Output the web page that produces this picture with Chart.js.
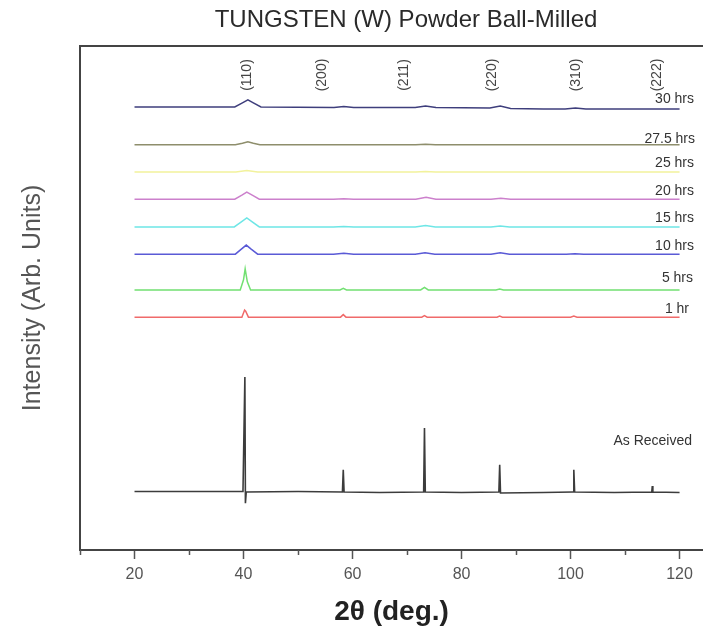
<!DOCTYPE html>
<html><head><meta charset="utf-8">
<script src="https://cdn.jsdelivr.net/npm/chart.js@4"></script>
<style>html,body{margin:0;padding:0;background:#fff}</style>
</head><body>
<canvas id="c" width="703" height="633" style="display:block;width:703px;height:633px"></canvas>
<script>
// ---- data ----
const chartTitle    = 'TUNGSTEN (W) Powder Ball-Milled';
const seriesNames   = ['As Received','1 hr','5 hrs','10 hrs','15 hrs','20 hrs','25 hrs','27.5 hrs','30 hrs'];
const seriesOffsets = [11.5, 46.2, 51.6, 58.7, 64.1, 69.6, 75.0, 80.4, 87.9];

const asReceivedX = [20, 30, 39.9, 40.25, 40.35, 40.5, 50, 58.15, 58.3, 58.45, 65, 73.05, 73.2, 73.35, 80, 86.85, 87.0, 87.15, 95, 100.45, 100.6, 100.75, 108, 114.9, 115.0, 115.1, 120];
const asReceivedY = [0.1, 0.1, 0.1, 22.8, -2.2, 0, 0.1, 0, 4.4, 0, -0.1, 0, 12.7, 0, -0.1, 0, 5.4, -0.2, -0.1, 0, 4.4, 0, -0.1, 0, 1.2, 0, -0.1];

const hr1X = [20, 39.7, 40.2, 40.4, 40.9, 57.8, 58.3, 58.8, 72.7, 73.2, 73.7, 86.5, 87.0, 87.5, 100.0, 100.6, 101.2, 120];
const hr1Y = [0, 0, 1.4, 1.2, 0, 0, 0.5, 0, 0, 0.3, 0, 0, 0.2, 0, 0, 0.2, 0, 0];

const hr5X = [20, 39.4, 40.0, 40.3, 40.7, 41.3, 57.7, 58.3, 58.9, 72.5, 73.2, 73.9, 86.3, 87.0, 87.7, 120];
const hr5Y = [0, 0, 2.0, 4.2, 1.6, 0, 0, 0.3, 0, 0, 0.5, 0, 0, 0.2, 0, 0];

const hr10X = [20, 38.5, 39.6, 40.5, 41.4, 42.6, 56.5, 58.4, 60.2, 71.5, 73.3, 75.1, 85.4, 87.1, 88.8, 99.2, 100.8, 102.4, 120];
const hr10Y = [0, 0, 1.0, 1.8, 1.0, 0, 0, 0.2, 0, 0, 0.3, 0, 0, 0.3, 0, 0, 0.1, 0, 0];

const hr15X = [20, 38.3, 39.6, 40.6, 41.6, 42.9, 56.5, 58.4, 60.2, 71.5, 73.4, 75.2, 85.4, 87.1, 88.8, 120];
const hr15Y = [0, 0, 1.0, 1.8, 1.0, 0, 0, 0.1, 0, 0, 0.3, 0, 0, 0.2, 0, 0];

const hr20X = [20, 38.4, 39.7, 40.6, 41.6, 42.9, 56.5, 58.4, 60.2, 71.6, 73.5, 75.3, 85.4, 87.2, 89.0, 120];
const hr20Y = [0, 0, 0.8, 1.4, 0.8, 0, 0, 0.1, 0, 0, 0.4, 0, 0, 0.2, 0, 0];

const hr25X = [20, 38.6, 40.6, 42.6, 71.6, 73.4, 75.2, 120];
const hr25Y = [0, 0, 0.3, 0, 0, 0.1, 0, 0];

const hr27X = [20, 38.5, 39.8, 40.8, 41.8, 43.0, 71.6, 73.4, 75.2, 120];
const hr27Y = [0, 0, 0.3, 0.6, 0.3, 0, 0, 0.1, 0, 0];

const hr30X = [20, 38.4, 39.8, 40.8, 41.8, 43.2, 56.6, 58.4, 60.2, 71.5, 73.4, 75.3, 85.2, 87.1, 89.0, 95, 99.0, 100.9, 102.8, 120];
const hr30Y = [0, 0, 0.8, 1.4, 0.8, 0, -0.1, 0.1, -0.1, -0.1, 0.2, -0.1, -0.2, 0.2, -0.3, -0.4, -0.4, -0.2, -0.4, -0.4];

const seriesX = [asReceivedX, hr1X, hr5X, hr10X, hr15X, hr20X, hr25X, hr27X, hr30X];
const seriesY = [asReceivedY, hr1Y, hr5Y, hr10Y, hr15Y, hr20Y, hr25Y, hr27Y, hr30Y];

const millerLabels    = ['(110)', '(200)', '(211)', '(220)', '(310)', '(222)'];
const millerPositions = [40.7, 54.5, 69.5, 85.7, 101.1, 115.8];

const xTicks      = [10, 20, 30, 40, 50, 60, 70, 80, 90, 100, 110, 120];
const xTickLabels = ['', '20', '', '40', '', '60', '', '80', '', '100', '', '120'];

// ---- styles ----
const FONT = "'Liberation Sans', Arial, sans-serif";
const seriesColors = ['#3c3c3c', '#f06a6a', '#72e072', '#5a5ad6', '#6ee6e6', '#cc80cc', '#f2f29c', '#8e8e6c', '#3e3e7c'];
const labelRaise   = [51, 8, 12, 8, 9, 8, 9, 6, 8];
const labelRight   = [692, 689, 693, 694, 694, 694, 694, 695, 694];

Chart.defaults.font.family = FONT;

const datasets = seriesNames.map((name, i) => ({
  label: name,
  data: seriesX[i].map((x, j) => ({ x: x, y: seriesOffsets[i] + seriesY[i][j] })),
  borderColor: seriesColors[i],
  borderWidth: i === 0 ? 1.6 : 1.5,
  pointRadius: 0,
  tension: 0,
  fill: false
}));

const decorPlugin = {
  id: 'decor',
  afterDraw(chart) {
    const { ctx, chartArea: a, scales: { x, y } } = chart;
    ctx.save();
    // title
    ctx.fillStyle = '#2a2a2a';
    ctx.font = "24px " + FONT;
    ctx.textAlign = 'center';
    ctx.textBaseline = 'middle';
    ctx.fillText(chartTitle, 406, 20);
    // top frame line
    ctx.strokeStyle = '#444';
    ctx.lineWidth = 2;
    ctx.beginPath();
    ctx.moveTo(a.left - 1, a.top);
    ctx.lineTo(a.right, a.top);
    ctx.stroke();
    // minor ticks
    ctx.lineWidth = 1.5;
    ctx.strokeStyle = '#555';
    xTicks.forEach((v, i) => {
      if (xTickLabels[i] === '') {
        const px = Math.round(x.getPixelForValue(v)) + 0.5;
        ctx.beginPath();
        ctx.moveTo(px, a.bottom);
        ctx.lineTo(px, a.bottom + 5);
        ctx.stroke();
      }
    });
    // Miller indices
    ctx.fillStyle = '#444';
    ctx.font = "14px " + FONT;
    ctx.textAlign = 'center';
    ctx.textBaseline = 'middle';
    millerLabels.forEach((t, i) => {
      const px = x.getPixelForValue(millerPositions[i]);
      ctx.save();
      ctx.translate(px, a.top + 29);
      ctx.rotate(-Math.PI / 2);
      ctx.fillText(t, 0, 0);
      ctx.restore();
    });
    // series labels
    ctx.fillStyle = '#333';
    ctx.font = "14px " + FONT;
    ctx.textAlign = 'right';
    ctx.textBaseline = 'middle';
    seriesNames.forEach((t, i) => {
      const py = y.getPixelForValue(seriesOffsets[i]) - labelRaise[i];
      ctx.fillText(t, labelRight[i], py);
    });
    ctx.restore();
  }
};

new Chart(document.getElementById('c'), {
  type: 'line',
  data: { datasets },
  options: {
    responsive: false,
    animation: false,
    devicePixelRatio: 1,
    layout: { padding: { top: 46, left: 0, right: 0, bottom: 0 } },
    plugins: {
      legend: { display: false },
      tooltip: { enabled: false },
      title: { display: false }
    },
    scales: {
      x: {
        type: 'linear',
        min: 10,
        max: 124.3,
        afterBuildTicks: s => { s.ticks = xTicks.map(v => ({ value: v })); },
        afterFit: s => { s.height = 83; },
        ticks: {
          autoSkip: false,
          maxRotation: 0,
          callback: (v, i) => xTickLabels[i],
          color: '#555',
          font: { size: 16 },
          padding: 6
        },
        grid: {
          display: true,
          drawOnChartArea: false,
          drawTicks: true,
          tickLength: 9,
          tickWidth: 1.5,
          tickColor: c => (c.tick && xTickLabels[xTicks.indexOf(c.tick.value)] !== '') ? '#555' : 'rgba(0,0,0,0)'
        },
        border: { display: true, color: '#444', width: 2 },
        title: {
          display: true,
          text: '2θ (deg.)',
          color: '#222',
          font: { size: 28, weight: 'bold' },
          padding: { top: 0, bottom: 4 }
        }
      },
      y: {
        type: 'linear',
        min: 0,
        max: 100,
        afterFit: s => { s.width = 80; },
        ticks: { display: false },
        grid: { display: false, drawTicks: false },
        border: { display: true, color: '#444', width: 2 },
        title: {
          display: true,
          text: 'Intensity (Arb. Units)',
          color: '#555',
          font: { size: 25 },
          padding: { top: 18, bottom: 0 }
        }
      }
    }
  },
  plugins: [decorPlugin]
});
</script>
</body></html>
